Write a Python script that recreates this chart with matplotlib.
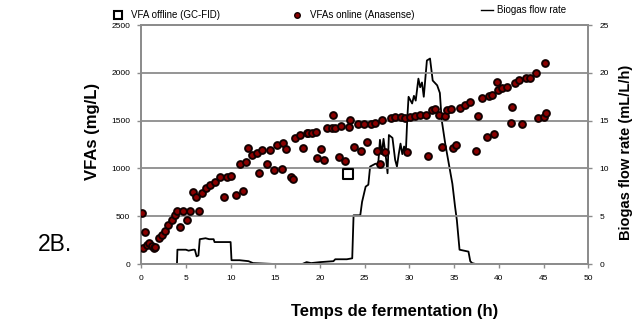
import matplotlib
matplotlib.use('Agg')
import matplotlib.pyplot as plt
from matplotlib.lines import Line2D

plt.rcParams['font.family'] = ['Liberation Sans', 'DejaVu Sans']

# VFAs online (Anasense), mg/L
vfa_online_t = [0.1, 0.4, 0.25, 0.6, 0.9, 1.2, 1.4, 1.6, 1.94, 2.3, 2.68, 3.05, 3.4, 3.8, 4.0,
                4.36, 4.7, 5.1, 5.5, 5.8, 6.15, 6.5, 6.8, 7.2, 7.7, 8.3, 8.8, 9.3, 9.6, 10.07,
                10.6, 11.0, 11.4, 11.7, 11.96, 12.4, 12.9, 13.2, 13.5, 14.1, 14.4, 14.9, 15.2,
                15.7, 15.9, 16.2, 16.7, 17.0, 17.2, 17.8, 18.1, 18.5, 18.7, 19.1, 19.5, 19.7,
                20.1, 20.4, 20.8, 21.3, 21.5, 21.7, 22.1, 22.4, 22.8, 23.2, 23.4, 23.8, 24.2,
                24.6, 24.9, 25.2, 25.7, 26.1, 26.4, 26.7, 26.9, 27.3, 27.9, 28.4, 29.0, 29.5,
                29.7, 30.1, 30.6, 31.2, 31.8, 32.1, 32.5, 32.9, 33.3, 33.6, 34.0, 34.2, 34.6,
                34.9, 35.2, 35.7, 36.2, 36.8, 37.4, 37.7, 38.1, 38.7, 38.9, 39.2, 39.4, 39.8,
                39.9, 40.3, 40.9, 41.3, 41.5, 41.8, 42.2, 42.6, 43.0, 43.5, 44.2, 44.4, 45.0,
                45.2, 45.3]
vfa_online = [537, 335, 164, 200, 223, 190, 170, 181, 268, 303, 349, 408, 460, 512, 558,
              384, 558, 460, 558, 753, 704, 551, 739, 792, 826, 855, 913, 704, 913, 924,
              722, 1046, 764, 1070, 1217, 1140, 1158, 949, 1192, 1043, 1192, 983, 1245,
              991, 1269, 1200, 913, 886, 1315, 1349, 1217, 1367, 1373, 1373, 1381, 1105,
              1200, 1088, 1419, 1419, 1559, 1419, 1116, 1444, 1080, 1436, 1506, 1227, 1464,
              1182, 1464, 1273, 1464, 1472, 1182, 1043, 1506, 1175, 1524, 1534, 1541, 1524,
              1168, 1534, 1548, 1559, 1559, 1133, 1611, 1618, 1559, 1221, 1548, 1611, 1618,
              1217, 1242, 1637, 1663, 1691, 1182, 1551, 1739, 1332, 1757, 1768, 1360, 1901,
              1820, 1838, 1855, 1472, 1639, 1890, 1925, 1464, 1942, 1942, 1994, 1524, 1537,
              2102, 1580]

# VFA offline (GC-FID)
vfa_offline_t = [23.1]
vfa_offline = [945]

# Biogas flow rate, mL/L/h
biogas_t = [0, 4.0, 4.05, 5.0, 5.3, 5.8, 6.0, 6.2, 6.4, 6.55, 7.2, 7.6, 8.1, 8.2, 9.0, 10.0,
            10.1, 11.0, 12.0, 12.5, 15.0, 18.0, 18.5, 19.0, 20.0, 21.5, 21.7, 23.0, 23.6,
            23.75, 24.5, 24.7, 25.1, 25.4, 25.6, 26.2, 26.5, 26.7, 26.9, 27.1, 27.4, 27.55,
            27.7, 28.1, 28.4, 28.6, 28.8, 29.0, 29.2, 29.4, 29.6, 29.75, 29.9, 30.3, 30.5,
            30.7, 31.0, 31.2, 31.4, 31.6, 31.95, 32.3, 32.6, 33.1, 33.4, 33.6, 34.0, 34.4,
            34.8, 35.1, 35.3, 35.6, 36.6, 36.8, 37.0, 37.4]
biogas = [0, 0, 1.5, 1.5, 1.4, 1.5, 1.5, 0.8, 0.9, 2.6, 2.7, 2.6, 2.6, 2.3, 2.3, 2.3,
          0.4, 0.4, 0.3, 0.1, 0, 0, 0.2, 0.1, 0.2, 0.3, 0.5, 0.5, 0.6,
          5.1, 5.1, 6.5, 8.1, 8.3, 10.2, 10.5, 10.4, 13.0, 11.5, 13.1, 10.9, 9.5,
          13.5, 13.2, 10.9, 10.2, 11.5, 12.6, 11.5, 12.3, 11.8, 15.1, 17.5, 16.8, 17.6,
          17.1, 19.4, 18.5, 19.0, 17.5, 21.3, 21.5, 19.2, 18.7, 17.9, 15.1, 12.6, 10.5,
          8.4, 6.0, 4.6, 1.5, 1.3, 0.3, 0.1, 0]

x_ticks = list(range(0, 51, 5))
y_ticks = list(range(0, 2501, 500))
y2_ticks = list(range(0, 26, 5))

gris = '#8c8c8c'
fig = plt.figure(figsize=(6.36, 3.22), dpi=100)
ax = fig.add_axes([0.222, 0.180, 0.703, 0.742])
ax2 = ax.twinx()

ax.set_xlim(0, 50)
ax.set_ylim(0, 2500)
ax2.set_ylim(0, 25)
ax.set_xticks(x_ticks)
ax.set_yticks(y_ticks)
ax2.set_yticks(y2_ticks)

ax.grid(axis='y', color=gris, linewidth=1.3)
ax.set_axisbelow(True)
for a in (ax, ax2):
    for s in a.spines.values():
        s.set_color(gris)
        s.set_linewidth(1.3)
    a.tick_params(length=3, width=1, color=gris, labelsize=6, pad=5)

ax.scatter(vfa_online_t, vfa_online, s=24, color='#8b0000', edgecolors='#120000',
           linewidths=1.4, zorder=3)
ax.scatter(vfa_offline_t, vfa_offline, s=50, marker='s', facecolors='white',
           edgecolors='black', linewidths=1.5, zorder=4)
ax2.plot(biogas_t, biogas, color='black', linewidth=1.3)

ax.set_zorder(ax2.get_zorder() + 1)
ax.patch.set_visible(False)

fig.text(0.146, 0.592, 'VFAs (mg/L)', rotation=90, ha='center', va='center',
         fontsize=12, fontweight='bold')
fig.text(0.985, 0.528, 'Biogas flow rate (mL/L/h)', rotation=90, ha='center',
         va='center', fontsize=10.5, fontweight='bold')
fig.text(0.621, 0.034, 'Temps de fermentation (h)', ha='center', va='center',
         fontsize=12, fontweight='bold')
fig.text(38 / 636, (322 - 251) / 322, '2B.', fontsize=16.5, va='baseline')

# legendes
h1 = Line2D([], [], marker='s', linestyle='none', markerfacecolor='white',
            markeredgecolor='black', markeredgewidth=1.5, markersize=6)
h2 = Line2D([], [], marker='o', linestyle='none', color='#8b0000',
            markeredgecolor='#120000', markersize=4)
h3 = Line2D([], [], color='black', linewidth=1)
opts = dict(frameon=False, fontsize=7, borderpad=0, borderaxespad=0, loc='center left',
            handlelength=1.2, handletextpad=0.8)
fig.legend([h1], ['VFA offline (GC-FID)'], bbox_to_anchor=(112 / 636, 1 - 15 / 322), **opts)
fig.legend([h2], ['VFAs online (Anasense)'], bbox_to_anchor=(291 / 636, 1 - 15 / 322), **opts)
opts['handletextpad'] = 0.4
fig.legend([h3], ['Biogas flow rate'], bbox_to_anchor=(481 / 636, 1 - 10 / 322), **opts)

fig.savefig('out.png', dpi=100)
